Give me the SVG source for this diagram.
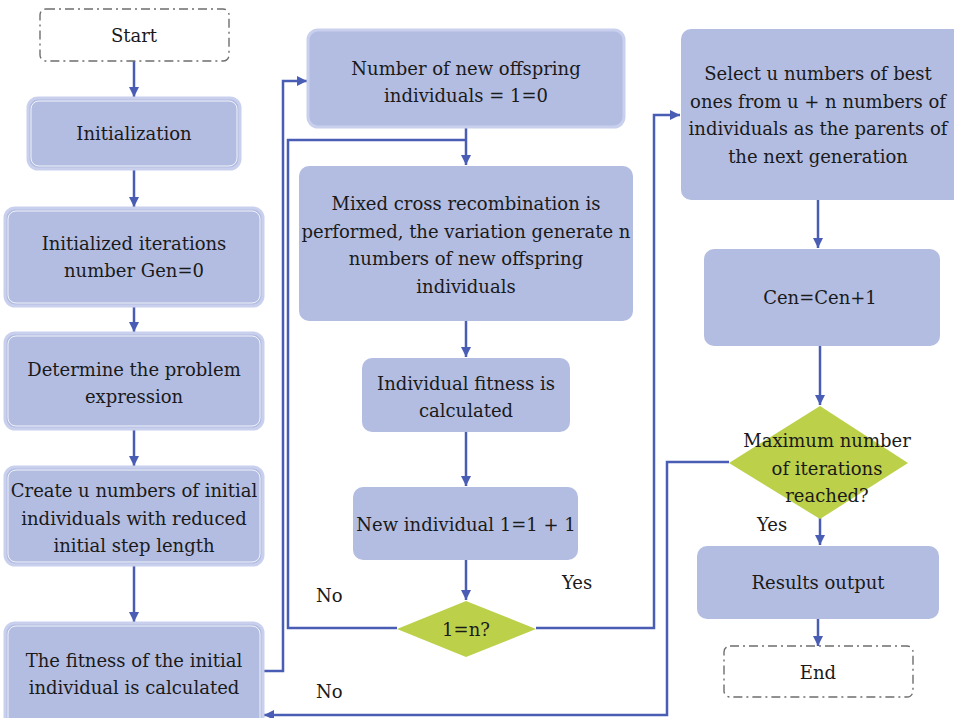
<svg xmlns="http://www.w3.org/2000/svg" width="954" height="718" viewBox="0 0 954 718">
  <defs>
    <marker id="arrow" markerUnits="userSpaceOnUse" markerWidth="10" markerHeight="10" viewBox="0 0 10 10" refX="10" refY="5" orient="auto">
      <path d="M0,0 L10,5 L0,10 Z" fill="#4a5db5"/>
    </marker>
    <style>
      .box { fill: #b3bde1; }
      .framed { fill: #b3bde1; stroke: #c9d0ee; stroke-width: 3; }
      .inner { fill: none; stroke: #ffffff; stroke-width: 1; opacity: 0.8; }
      .term { fill: #ffffff; stroke: #6e6e6e; stroke-width: 1.4; stroke-dasharray: 9 4 2 4; }
      .dec { fill: #bdd04a; }
      .conn { fill: none; stroke: #4a5db5; stroke-width: 2.5; }
      text { font-family: 'DejaVu Serif', serif; font-size: 18px; fill: #1a1a1a; text-anchor: middle; }
      .lbl { text-anchor: start; }
    </style>
  </defs>

  <!-- connectors -->
  <g id="connectors">
    <line class="conn" x1="134" y1="61" x2="134" y2="97" marker-end="url(#arrow)"/>
    <line class="conn" x1="134" y1="170" x2="134" y2="207" marker-end="url(#arrow)"/>
    <line class="conn" x1="134" y1="307" x2="134" y2="332" marker-end="url(#arrow)"/>
    <line class="conn" x1="134" y1="430" x2="134" y2="466" marker-end="url(#arrow)"/>
    <line class="conn" x1="134" y1="566" x2="134" y2="622" marker-end="url(#arrow)"/>
    <polyline class="conn" points="264,671 283,671 283,81 307,81" marker-end="url(#arrow)"/>
    <line class="conn" x1="466" y1="127" x2="466" y2="165" marker-end="url(#arrow)"/>
    <polyline class="conn" points="397,628 288,628 288,140 466,140"/>
    <line class="conn" x1="466" y1="321" x2="466" y2="357" marker-end="url(#arrow)"/>
    <line class="conn" x1="466" y1="432" x2="466" y2="486" marker-end="url(#arrow)"/>
    <line class="conn" x1="466" y1="560" x2="466" y2="600" marker-end="url(#arrow)"/>
    <polyline class="conn" points="536,628 654,628 654,115 680,115" marker-end="url(#arrow)"/>
    <line class="conn" x1="818" y1="200" x2="818" y2="248" marker-end="url(#arrow)"/>
    <line class="conn" x1="820" y1="346" x2="820" y2="405" marker-end="url(#arrow)"/>
    <polyline class="conn" points="729,462 667,462 667,715 264,715" marker-end="url(#arrow)"/>
    <line class="conn" x1="820" y1="518" x2="820" y2="545" marker-end="url(#arrow)"/>
    <line class="conn" x1="818" y1="619" x2="818" y2="646" marker-end="url(#arrow)"/>
  </g>

  <!-- left column -->
  <g id="start">
    <rect class="term" x="40" y="9" width="189" height="52" rx="6"/>
    <text x="134" y="42">Start</text>
  </g>
  <g id="initialization">
    <rect class="framed" x="28" y="98" width="212" height="71" rx="10"/>
    <rect class="inner" x="31" y="101" width="206" height="65" rx="8"/>
    <text x="134" y="140">Initialization</text>
  </g>
  <g id="init-gen">
    <rect class="framed" x="5" y="208" width="258" height="98" rx="10"/>
    <rect class="inner" x="8" y="211" width="252" height="92" rx="8"/>
    <text x="134" y="250">Initialized iterations</text>
    <text x="134" y="277">number Gen=0</text>
  </g>
  <g id="problem">
    <rect class="framed" x="5" y="333" width="258" height="96" rx="10"/>
    <rect class="inner" x="8" y="336" width="252" height="90" rx="8"/>
    <text x="134" y="376">Determine the problem</text>
    <text x="134" y="403">expression</text>
  </g>
  <g id="create">
    <rect class="framed" x="5" y="467" width="258" height="98" rx="10"/>
    <rect class="inner" x="8" y="470" width="252" height="92" rx="8"/>
    <text x="134" y="497">Create u numbers of initial</text>
    <text x="134" y="525">individuals with reduced</text>
    <text x="134" y="552">initial step length</text>
  </g>
  <g id="initial-fitness">
    <rect class="framed" x="5" y="623" width="258" height="110" rx="10"/>
    <rect class="inner" x="8" y="626" width="252" height="104" rx="8"/>
    <text x="134" y="667">The fitness of the initial</text>
    <text x="134" y="694">individual is calculated</text>
  </g>

  <!-- middle column -->
  <g id="offspring-count">
    <rect class="framed" x="308" y="30" width="316" height="97" rx="10"/>
    <text x="466" y="75">Number of new offspring</text>
    <text x="466" y="102">individuals = 1=0</text>
  </g>
  <g id="recombination">
    <rect class="box" x="299" y="166" width="334" height="155" rx="10"/>
    <text x="466" y="210">Mixed cross recombination is</text>
    <text x="466" y="238">performed, the variation generate n</text>
    <text x="466" y="265">numbers of new offspring</text>
    <text x="466" y="293">individuals</text>
  </g>
  <g id="individual-fitness">
    <rect class="box" x="362" y="358" width="208" height="74" rx="10"/>
    <text x="466" y="390">Individual fitness is</text>
    <text x="466" y="417">calculated</text>
  </g>
  <g id="increment">
    <rect class="box" x="353" y="487" width="225" height="73" rx="10"/>
    <text x="466" y="531">New individual 1=1 + 1</text>
  </g>
  <g id="check-n">
    <polygon class="dec" points="466,601 536,629 466,657 397,629"/>
    <text x="466" y="636">1=n?</text>
  </g>

  <!-- right column -->
  <g id="select">
    <rect class="box" x="681" y="29" width="285" height="171" rx="10"/>
    <text x="818" y="80">Select u numbers of best</text>
    <text x="818" y="108">ones from u + n numbers of</text>
    <text x="818" y="135">individuals as the parents of</text>
    <text x="818" y="163">the next generation</text>
  </g>
  <g id="gen-increment">
    <rect class="box" x="704" y="249" width="236" height="97" rx="10"/>
    <text x="820" y="304">Cen=Cen+1</text>
  </g>
  <g id="check-max">
    <polygon class="dec" points="820,406 908,463 820,519 729,463"/>
    <text x="827" y="447">Maximum number</text>
    <text x="827" y="475">of iterations</text>
    <text x="827" y="502">reached?</text>
  </g>
  <g id="output">
    <rect class="box" x="697" y="546" width="242" height="73" rx="10"/>
    <text x="818" y="589">Results output</text>
  </g>
  <g id="end">
    <rect class="term" x="724" y="646" width="189" height="51" rx="6"/>
    <text x="818" y="679">End</text>
  </g>

  <!-- branch labels -->
  <g id="labels">
    <text class="lbl" x="316" y="602">No</text>
    <text class="lbl" x="562" y="589">Yes</text>
    <text class="lbl" x="316" y="698">No</text>
    <text class="lbl" x="757" y="531">Yes</text>
  </g>
</svg>
